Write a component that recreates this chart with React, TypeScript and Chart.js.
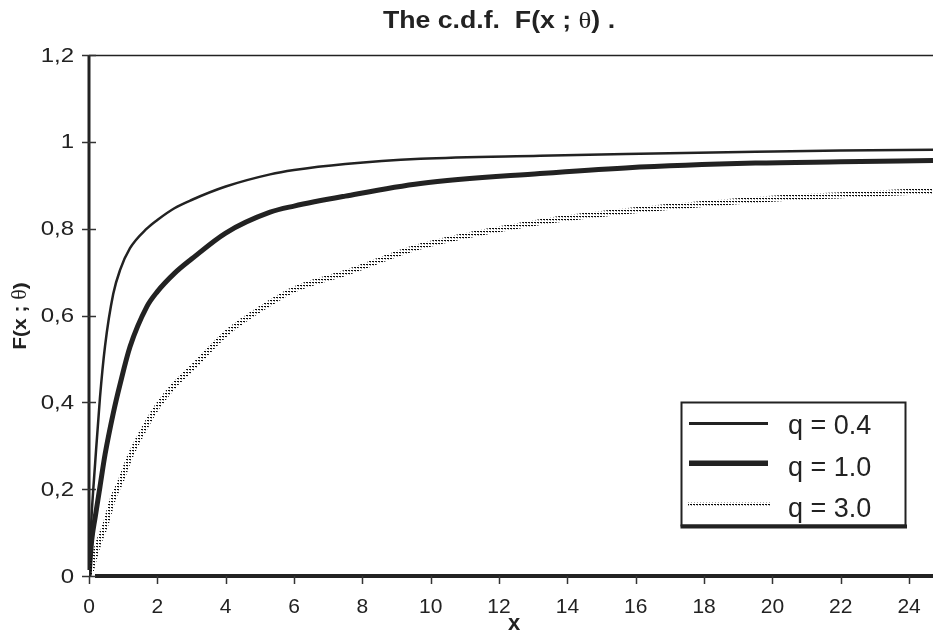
import React, { useEffect, useRef } from "react";
import { Chart, registerables } from "chart.js";

Chart.register(...registerables);

// ---- data ----
const xValues = [0, 0.08, 0.18, 0.32, 0.47, 0.71, 0.91, 1.2, 1.69, 2, 2.5, 3, 4, 5.3, 6, 7.5, 9.7, 13.2, 15.7, 19.5, 22, 24.7];
const q04Values = [0.02, 0.145, 0.26, 0.41, 0.53, 0.65, 0.705, 0.755, 0.8, 0.82, 0.847, 0.866, 0.897, 0.925, 0.935, 0.949, 0.961, 0.968, 0.972, 0.977, 0.98, 0.982];
const q10Values = [0, 0.083, 0.135, 0.205, 0.28, 0.375, 0.442, 0.528, 0.62, 0.655, 0.697, 0.73, 0.79, 0.838, 0.852, 0.875, 0.904, 0.927, 0.94, 0.951, 0.954, 0.957];
const q30Values = [0, 0.02, 0.05, 0.085, 0.115, 0.18, 0.215, 0.275, 0.35, 0.39, 0.44, 0.478, 0.558, 0.629, 0.66, 0.698, 0.759, 0.815, 0.84, 0.866, 0.877, 0.887];
const seriesLabels = ["q = 0.4", "q = 1.0", "q = 3.0"];
const xMin = 0;
const xMax = 24.7;
const xStep = 2;
const yMin = 0;
const yMax = 1.2;
const yStep = 0.2;
const titleParts = ["The c.d.f.  F(x ; ", "θ", ") ."];
const yTitleParts = ["F(x ; ", "θ", ")"];
const xTitle = "x";

const INK = "#222222";
const SANS = "'Liberation Sans', Arial, Helvetica, sans-serif";
const SERIF = "'Liberation Serif', 'Times New Roman', serif";

function toPoints(ys: number[]) {
  return xValues.map((x, i) => ({ x, y: ys[i] }));
}

function fmtY(v: number) {
  return (Math.round(v * 10) / 10).toString().replace(".", ",");
}

export default function App() {
  const canvasRef = useRef<HTMLCanvasElement | null>(null);

  useEffect(() => {
    const canvas = canvasRef.current;
    if (!canvas) return;
    const mainCtx = canvas.getContext("2d")!;

    const pc = document.createElement("canvas");
    pc.width = 3;
    pc.height = 3;
    const pg = pc.getContext("2d")!;
    pg.fillStyle = "#0a0a0a";
    pg.fillRect(0, 0, 2, 1);
    pg.fillStyle = "rgba(10,10,10,0.35)";
    pg.fillRect(1, 1, 1, 1);
    const stipple: any = mainCtx.createPattern(pc, "repeat") || INK;

    const line = (ctx: CanvasRenderingContext2D, x1: number, y1: number, x2: number, y2: number) => {
      ctx.beginPath();
      ctx.moveTo(x1, y1);
      ctx.lineTo(x2, y2);
      ctx.stroke();
    };

    // draws a run of [text, font] parts, horizontally stretched by sx, centred on (cx, y)
    const richCentered = (ctx: CanvasRenderingContext2D, parts: [string, string][], cx: number, y: number, sx: number) => {
      let w = 0;
      parts.forEach(([s, f]) => {
        ctx.font = f;
        w += ctx.measureText(s).width;
      });
      ctx.save();
      ctx.translate(cx, y);
      ctx.scale(sx, 1);
      ctx.textAlign = "left";
      let px = -w / 2;
      parts.forEach(([s, f]) => {
        ctx.font = f;
        ctx.fillText(s, px, 0);
        px += ctx.measureText(s).width;
      });
      ctx.restore();
    };

    const stretched = (ctx: CanvasRenderingContext2D, s: string, x: number, y: number, sx: number) => {
      ctx.save();
      ctx.translate(x, y);
      ctx.scale(sx, 1);
      ctx.fillText(s, 0, 0);
      ctx.restore();
    };

    const decor = {
      id: "decor",
      beforeDatasetsDraw(chart: any) {
        const { ctx, chartArea: a, scales } = chart;
        const xs = scales.x;
        const ys = scales.y;
        ctx.save();
        ctx.strokeStyle = INK;
        ctx.lineWidth = 1.5;
        line(ctx, a.left, a.top + 0.5, a.right, a.top + 0.5);
        ctx.lineWidth = 3;
        line(ctx, a.left, a.top, a.left, a.bottom - 6);
        ctx.lineWidth = 4;
        line(ctx, a.left + 6, a.bottom, a.right, a.bottom);
        ctx.lineWidth = 1.5;
        ctx.strokeStyle = "#333";
        ys.ticks.forEach((t: any) => {
          const y = Math.round(ys.getPixelForValue(t.value)) + 0.5;
          line(ctx, a.left - 7, y, a.left + 7, y);
        });
        xs.ticks.forEach((t: any) => {
          const x = Math.round(xs.getPixelForValue(t.value)) + 0.5;
          line(ctx, x, a.bottom, x, a.bottom + 8);
        });
        ctx.restore();
      },
      afterDraw(chart: any) {
        const { ctx, chartArea: a, scales } = chart;
        const xs = scales.x;
        const ys = scales.y;
        ctx.save();
        ctx.fillStyle = INK;

        // tick labels
        ctx.font = `20px ${SANS}`;
        ctx.textAlign = "right";
        ctx.textBaseline = "middle";
        ys.ticks.forEach((t: any) => {
          stretched(ctx, fmtY(t.value), 74, ys.getPixelForValue(t.value) + 1, 1.2);
        });
        ctx.font = `21px ${SANS}`;
        ctx.textAlign = "center";
        ctx.textBaseline = "middle";
        xs.ticks.forEach((t: any) => {
          ctx.fillText(String(t.value), xs.getPixelForValue(t.value), 607);
        });

        // title
        ctx.textBaseline = "alphabetic";
        const bold = `bold 23px ${SANS}`;
        const ser = `23px ${SERIF}`;
        richCentered(
          ctx,
          [
            [titleParts[0], bold],
            [titleParts[1], ser],
            [titleParts[2], bold],
          ],
          499,
          28,
          1.16
        );

        // y title (rotated)
        const yb = `bold 19px ${SANS}`;
        const ysr = `20px ${SERIF}`;
        ctx.save();
        ctx.translate(21, 316);
        ctx.rotate(-Math.PI / 2);
        ctx.textBaseline = "middle";
        richCentered(
          ctx,
          [
            [yTitleParts[0], yb],
            [yTitleParts[1], ysr],
            [yTitleParts[2], yb],
          ],
          0,
          0,
          1.1
        );
        ctx.restore();

        // x title
        ctx.font = `bold 22px ${SANS}`;
        ctx.textAlign = "center";
        ctx.textBaseline = "alphabetic";
        ctx.fillText(xTitle, (a.left + a.right) / 2 + 3, 630);

        // legend
        ctx.fillStyle = "#ffffff";
        ctx.fillRect(681, 402, 225, 124);
        ctx.strokeStyle = INK;
        ctx.lineWidth = 2;
        ctx.strokeRect(681.5, 402.5, 224, 123);
        ctx.fillStyle = INK;
        ctx.fillRect(680.5, 524.5, 226.5, 4);
        ctx.lineWidth = 3;
        line(ctx, 689, 423.5, 768, 423.5);
        ctx.lineWidth = 5.5;
        line(ctx, 689, 463.2, 768, 463.2);
        ctx.fillStyle = stipple;
        ctx.fillRect(688, 502, 82, 5);
        ctx.fillStyle = INK;
        ctx.font = `27px ${SANS}`;
        ctx.textAlign = "left";
        ctx.textBaseline = "alphabetic";
        ctx.fillText(seriesLabels[0], 788, 434.4);
        ctx.fillText(seriesLabels[1], 788, 475.5);
        ctx.fillText(seriesLabels[2], 788, 517.2);
        ctx.restore();
      },
    };

    const chart = new Chart(canvas, {
      type: "line",
      data: {
        datasets: [
          {
            label: seriesLabels[2],
            data: toPoints(q30Values),
            borderColor: stipple,
            borderWidth: 6,
            pointRadius: 0,
            cubicInterpolationMode: "monotone",
            fill: false,
          },
          {
            label: seriesLabels[1],
            data: toPoints(q10Values),
            borderColor: INK,
            borderWidth: 5,
            pointRadius: 0,
            cubicInterpolationMode: "monotone",
            fill: false,
          },
          {
            label: seriesLabels[0],
            data: toPoints(q04Values),
            borderColor: INK,
            borderWidth: 2.5,
            pointRadius: 0,
            cubicInterpolationMode: "monotone",
            fill: false,
          },
        ],
      },
      options: {
        responsive: false,
        animation: false,
        events: [],
        layout: { padding: { top: 55, left: 0, right: 0, bottom: 0 } },
        plugins: {
          legend: { display: false },
          title: { display: false },
          tooltip: { enabled: false },
        },
        scales: {
          x: {
            type: "linear",
            min: xMin,
            max: xMax,
            ticks: { stepSize: xStep, display: false, includeBounds: false },
            grid: { display: false },
            border: { display: false },
            afterFit: (s: any) => {
              s.height = 59;
            },
          },
          y: {
            type: "linear",
            min: yMin,
            max: yMax,
            ticks: { stepSize: yStep, display: false },
            grid: { display: false },
            border: { display: false },
            afterFit: (s: any) => {
              s.width = 89;
            },
          },
        },
      } as any,
      plugins: [decor],
    });

    return () => chart.destroy();
  }, []);

  return (
    <div style={{ position: "absolute", left: 0, top: 0, width: 933, height: 635, background: "#fff" }}>
      <canvas ref={canvasRef} width={933} height={635} style={{ display: "block" }} />
    </div>
  );
}
